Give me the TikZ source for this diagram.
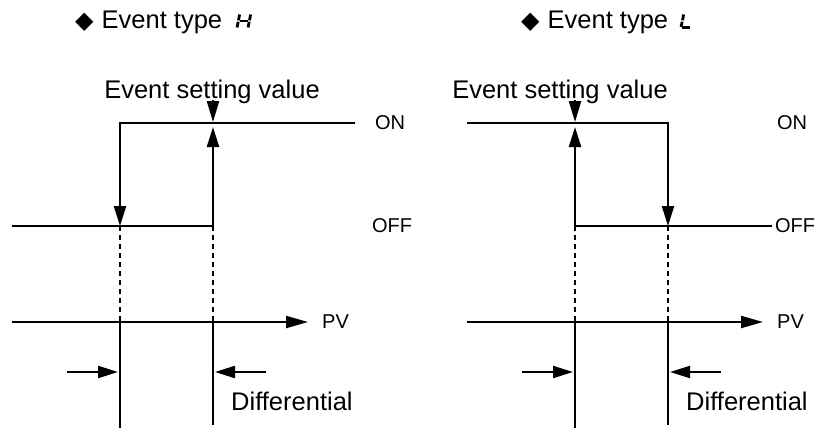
\documentclass[tikz,border=0pt]{standalone}
\usepackage{fontspec}
\setmainfont{Liberation Sans}
\newfontfamily\djv{DejaVu Sans}
\usetikzlibrary{arrows.meta}
\begin{document}
\begin{tikzpicture}[x=1pt,y=-1pt,
  wire/.style={line width=2.2pt, line join=miter},
  dashwire/.style={line width=2.2pt, dash pattern=on 5pt off 4pt},
  tipped/.style={-{Triangle[length=20pt,width=12pt]}},
  big/.style={font=\fontsize{25.5}{30}\selectfont, inner sep=0pt},
  small/.style={font=\fontsize{20}{24}\selectfont, inner sep=0pt},
  seg/.style={line width=2.8pt},
  sevenH/.pic={
    \draw[seg] (1.7,-1) -- (2.86,-6.8);
    \draw[seg] (3.14,-8.2) -- (4.3,-14);
    \draw[seg] (12.7,-1) -- (13.86,-6.8);
    \draw[seg] (14.14,-8.2) -- (15.3,-14);
    \draw[seg] (4.5,-7.5) -- (12.4,-7.5);
  },
  sevenL/.pic={
    \draw[seg] (1.7,-1.6) -- (2.86,-6.8);
    \draw[seg] (3.14,-8.2) -- (4.3,-14);
    \draw[seg] (3,-0.9) -- (11,-0.9);
  }
]
\useasboundingbox (0,0) rectangle (816,428);

% ---------- left: Event type H ----------
\node[big, anchor=base west] (title1) at (75,28.5) {{\djv\fontsize{24}{24}\selectfont ◆}\hspace{8pt}Event type};
\pic at ([xshift=13pt]title1.base east) {sevenH};
\node[big] (esv1) at (212,92) {Event setting value};
\coordinate (a1) at (355,123);
\coordinate (b1) at (120,123);
\coordinate (c1) at (120,226);
\coordinate (d1) at (12,226);
\coordinate (e1) at (213,226);
\coordinate (f1) at (213,127);
\coordinate (g1) at (213,122);
\coordinate (h1) at (213,100);
\coordinate (p1) at (12,322);
\coordinate (q1) at (308,322);
\coordinate (u1) at (120,322);
\coordinate (v1) at (213,322);
\coordinate (w1) at (120,428);
\coordinate (z1) at (213,425);
\coordinate (la1) at (67,372);
\coordinate (lb1) at (118,372);
\coordinate (ra1) at (266,372);
\coordinate (rb1) at (215,372);
\node[small] (on1) at (390,123) {ON};
\node[small] (off1) at (392,226) {OFF};
\node[small, anchor=west] (pv1) at (322,322) {PV};
\node[big, anchor=west] (diff1) at (231,401) {Differential};
\draw[wire, tipped] (a1) -- (b1) -- (c1);
\draw[wire, tipped] (d1) -- (e1) -- (f1);
\draw[wire, -{Triangle[length=21pt,width=12pt]}] (h1) -- (g1);
\draw[dashwire] (c1) -- (u1);
\draw[dashwire] (e1) -- (v1);
\draw[wire, -{Triangle[length=22pt,width=12pt]}] (p1) -- (q1);
\draw[wire] (u1) -- (w1);
\draw[wire] (v1) -- (z1);
\draw[wire, tipped] (la1) -- (lb1);
\draw[wire, tipped] (ra1) -- (rb1);

% ---------- right: Event type L ----------
\node[big, anchor=base west] (title2) at (521,28.5) {{\djv\fontsize{24}{24}\selectfont ◆}\hspace{8pt}Event type};
\pic at ([xshift=11pt]title2.base east) {sevenL};
\node[big] (esv2) at (560,92) {Event setting value};
\coordinate (a2) at (467,123);
\coordinate (b2) at (668,123);
\coordinate (c2) at (668,226);
\coordinate (d2) at (772,226);
\coordinate (e2) at (575,226);
\coordinate (f2) at (575,127);
\coordinate (g2) at (575,122);
\coordinate (h2) at (575,100);
\coordinate (p2) at (467,322);
\coordinate (q2) at (763,322);
\coordinate (u2) at (575,322);
\coordinate (v2) at (668,322);
\coordinate (w2) at (575,428);
\coordinate (z2) at (668,425);
\coordinate (la2) at (522,372);
\coordinate (lb2) at (573,372);
\coordinate (ra2) at (721,372);
\coordinate (rb2) at (670,372);
\node[small] (on2) at (792,123) {ON};
\node[small] (off2) at (795,226) {OFF};
\node[small, anchor=west] (pv2) at (777,322) {PV};
\node[big, anchor=west] (diff2) at (686,401) {Differential};
\draw[wire, tipped] (a2) -- (b2) -- (c2);
\draw[wire, tipped] (d2) -- (e2) -- (f2);
\draw[wire, -{Triangle[length=21pt,width=12pt]}] (h2) -- (g2);
\draw[dashwire] (c2) -- (v2);
\draw[dashwire] (e2) -- (u2);
\draw[wire, -{Triangle[length=22pt,width=12pt]}] (p2) -- (q2);
\draw[wire] (u2) -- (w2);
\draw[wire] (v2) -- (z2);
\draw[wire, tipped] (la2) -- (lb2);
\draw[wire, tipped] (ra2) -- (rb2);
\end{tikzpicture}
\end{document}
